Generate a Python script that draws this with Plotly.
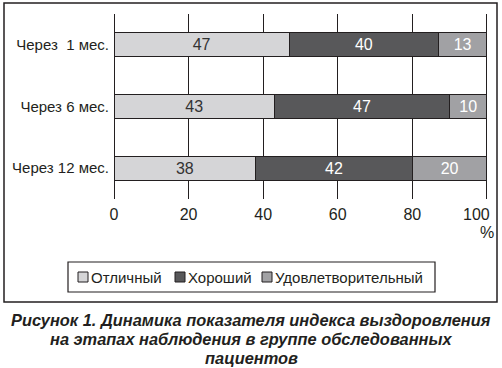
import plotly.graph_objects as go

categories = ["Через\u00a0 1 мес.", "Через 6 мес.", "Через 12 мес."]
series_names = ["Отличный", "Хороший", "Удовлетворительный"]
excellent = [47, 43, 38]
good = [40, 47, 42]
satisfactory = [13, 10, 20]
x_ticks = [0, 20, 40, 60, 80, 100]
caption_lines = [
    "Рисунок 1. Динамика показателя индекса выздоровления",
    "на этапах наблюдения в группе обследованных",
    "пациентов",
]

colors = ["#d5d5d7", "#58585a", "#a1a1a4"]
text_colors = ["#333333", "#ffffff", "#ffffff"]
values = [excellent, good, satisfactory]

FONT = "Liberation Sans, Arial, sans-serif"
INK = "#231f20"

# plot area geometry (pixels) used to place frame/legend/caption
W, H = 502, 368
L, R, T, B = 114, 488, 14, 199
PW, PH = R - L, B - T


def px(xp):
    return (xp - L) / PW


def py(yp):
    return (B - yp) / PH


fig = go.Figure()
for name, vals, c, tc in zip(series_names, values, colors, text_colors):
    fig.add_trace(go.Bar(
        y=categories, x=vals, name=name, orientation="h",
        marker=dict(color=c, line=dict(color=INK, width=1)),
        text=vals, textposition="inside", insidetextanchor="middle",
        textfont=dict(family=FONT, size=16, color=tc),
        hoverinfo="skip",
    ))

# last tick label is drawn right-aligned at its tick (as in the original)
tick_text = [str(v) for v in x_ticks[:-1]] + [""]

fig.update_layout(
    width=W, height=H,
    margin=dict(l=L, r=W - R, t=T, b=H - B, autoexpand=False),
    paper_bgcolor="white", plot_bgcolor="white",
    barmode="stack", bargap=0.61,
    font=dict(family=FONT, color=INK),
    showlegend=False,
    xaxis=dict(
        range=[0, 100.3], tickvals=x_ticks, ticktext=tick_text,
        showgrid=True, gridcolor=INK, gridwidth=1,
        zeroline=True, zerolinecolor=INK, zerolinewidth=1,
        showline=False, ticks="", ticklabelstandoff=4,
        tickfont=dict(family=FONT, size=16, color=INK),
        fixedrange=True,
    ),
    yaxis=dict(
        categoryorder="array", categoryarray=categories, autorange="reversed",
        showgrid=False, zeroline=False, showline=False, ticks="",
        ticklabelstandoff=4,
        tickfont=dict(family=FONT, size=15, color=INK),
        fixedrange=True,
    ),
)

fig.add_annotation(text=str(x_ticks[-1]), xref="x", x=x_ticks[-1], yref="paper",
                   y=py(214), xanchor="right", yanchor="middle", xshift=5,
                   showarrow=False, font=dict(family=FONT, size=16, color=INK))

# "%" unit label under the 100 tick
fig.add_annotation(text="%", xref="x", x=x_ticks[-1], yref="paper", y=py(233),
                   xanchor="center", yanchor="middle", showarrow=False,
                   font=dict(family=FONT, size=16, color=INK))

# outer frame
fig.add_shape(type="rect", xref="paper", yref="paper",
              x0=px(4), x1=px(497), y0=py(302), y1=py(3),
              line=dict(color=INK, width=1.5), layer="below")

# legend (boxed, compact: swatch directly followed by its label)
fig.add_shape(type="rect", xref="paper", yref="paper",
              x0=px(68), x1=px(435), y0=py(292), y1=py(262),
              line=dict(color=INK, width=1.2), fillcolor="white", layer="below")
legend_swatch_x = [78, 175, 262]
for name, c, sx in zip(series_names, colors, legend_swatch_x):
    fig.add_shape(type="rect", xref="paper", yref="paper",
                  x0=px(sx), x1=px(sx + 10), y0=py(282), y1=py(272),
                  line=dict(color=INK, width=1), fillcolor=c)
    fig.add_annotation(text=name, xref="paper", yref="paper",
                       x=px(sx + 11), y=py(277), xanchor="left", yanchor="middle",
                       showarrow=False, font=dict(family=FONT, size=15, color=INK))

# caption (one annotation per line for tight line spacing)
caption_y = [320, 339, 358]
for line, cy in zip(caption_lines, caption_y):
    fig.add_annotation(
        text=line, xref="paper", yref="paper", x=px(251), y=py(cy),
        xanchor="center", yanchor="middle", showarrow=False,
        font=dict(family="Liberation Sans, Arial", size=16.4,
                  color=INK, weight="bold", style="italic"),
    )

fig.write_html("out.html", config={"displayModeBar": False},
               post_script="document.body.style.margin='0';")
